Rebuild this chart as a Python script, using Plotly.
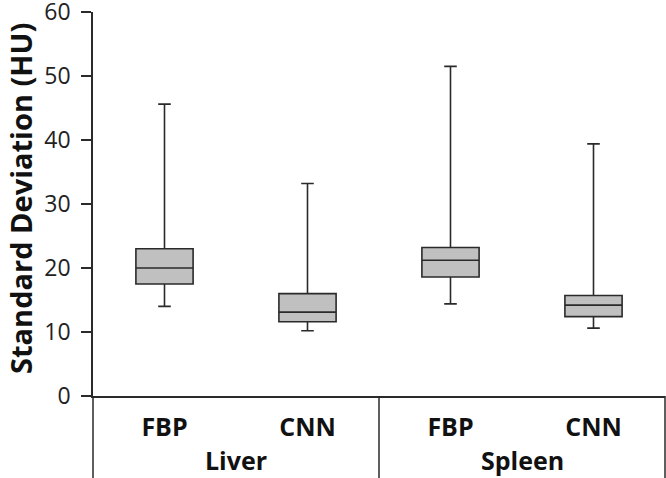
import plotly.graph_objects as go

groups = ["Liver", "Liver", "Spleen", "Spleen"]
methods = ["FBP", "CNN", "FBP", "CNN"]
lower = [14.0, 10.2, 14.4, 10.6]
q1 = [17.5, 11.6, 18.6, 12.4]
median = [20.0, 13.1, 21.2, 14.2]
q3 = [23.0, 16.0, 23.2, 15.7]
upper = [45.6, 33.2, 51.5, 39.4]
y_ticks = [0, 10, 20, 30, 40, 50, 60]
y_title = "Standard Deviation (HU)"

cats = [g + " " + m for g, m in zip(groups, methods)]

FONT = "Open Sans"
LINE = "#2a2a2a"
fig = go.Figure()
fig.add_trace(go.Box(
    x=cats, q1=q1, median=median, q3=q3, lowerfence=lower, upperfence=upper,
    fillcolor="#c0c0c0", line=dict(color=LINE, width=1.6),
    width=0.4, whiskerwidth=0.22, boxpoints=False, showlegend=False,
    hoverinfo="skip",
))

plot_w = 666 - 93 - 1
plot_h = 478 - 12 - 82
depth = -82 / plot_h
shapes = [
    dict(type="line", xref="paper", yref="paper", x0=0, x1=0, y0=depth, y1=0,
         line=dict(color=LINE, width=1.5)),
    dict(type="line", xref="x", yref="paper", x0=1.5, x1=1.5, y0=depth, y1=0,
         line=dict(color=LINE, width=1.5)),
    dict(type="line", xref="paper", yref="paper", x0=1, x1=1, y0=depth, y1=0,
         line=dict(color=LINE, width=1.5)),
]
group_names = ["Liver", "Spleen"]
group_pos = [0.5, 2.5]
annotations = [
    dict(x=p, y=-64 / plot_h, xref="x", yref="paper", text="<b>" + n + "</b>", showarrow=False,
         font=dict(family=FONT, size=25, color="#111"), xanchor="center", yanchor="middle",
         borderpad=0)
    for n, p in zip(group_names, group_pos)
]
annotations.append(dict(
    x=(20 - 93) / plot_w, y=(396 - 199) / plot_h, xref="paper", yref="paper",
    text="<b>" + y_title + "</b>", textangle=-90, showarrow=False,
    font=dict(family=FONT, size=29, color="#111"), xanchor="center", yanchor="middle",
    borderpad=0,
))

fig.update_layout(
    width=666, height=478,
    margin=dict(l=93, r=1, t=12, b=82, autoexpand=False),
    plot_bgcolor="white", paper_bgcolor="white",
    shapes=shapes, annotations=annotations,
    xaxis=dict(
        type="category", categoryarray=cats, range=[-0.5, 3.5], automargin=False,
        tickvals=cats, ticktext=methods, showline=True, linecolor=LINE, linewidth=1.5,
        ticks="", showgrid=False, zeroline=False,
        tickfont=dict(family=FONT, size=25, color="#111", weight="bold"),
        ticklabelstandoff=8,
    ),
    yaxis=dict(
        range=[0, 60], tickvals=y_ticks, showline=True, linecolor=LINE, linewidth=1.5,
        automargin=False, ticklabeloverflow="allow",
        ticks="outside", ticklen=10, tickcolor=LINE, tickwidth=1.5,
        showgrid=False, zeroline=False,
        tickfont=dict(family=FONT, size=23, color="#222"),
        ticklabelstandoff=6,
    ),
)
fig.write_html("out.html", config={"displayModeBar": False},
               post_script="document.body.style.margin='0';")
